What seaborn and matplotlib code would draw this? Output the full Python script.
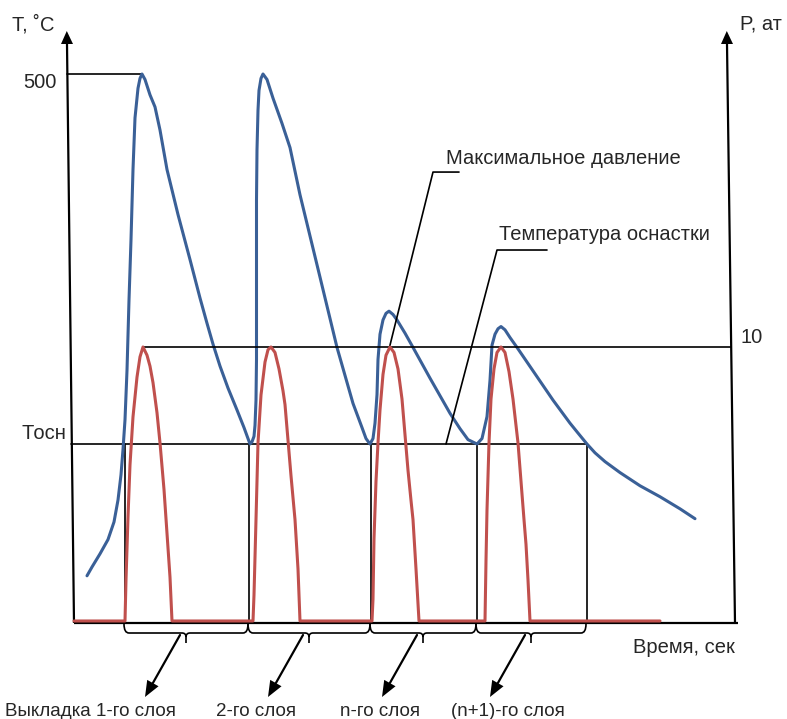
import matplotlib
matplotlib.use("Agg")
import numpy as np
import pandas as pd
import matplotlib.pyplot as plt
from matplotlib.path import Path
from matplotlib.patches import PathPatch, Polygon
import seaborn as sns

# ---- data -------------------------------------------------------------
# tool temperature during lay-up, t (s) / T (deg C)
temp_t = [13, 18, 26, 34, 40, 44, 47, 49, 51, 53, 55, 57, 59, 61, 64, 66, 68, 71, 76, 81,
          86, 93, 104, 116, 126, 133, 139, 146, 154, 163, 170, 174, 176,
          178, 180, 181, 182, 182.5, 182.5, 182.5, 183, 184, 185, 187, 189, 193, 199, 208, 216,
          226, 246, 263, 279, 288, 292, 296,
          299, 301, 303, 304, 306, 309, 312, 315, 319, 323, 331, 339, 356, 376, 386, 394, 403,
          408, 413, 416, 418, 421, 424, 427, 431, 436, 443, 461, 479, 496, 504, 513, 521, 531,
          546, 566, 586, 606, 621]
temp_T = [43, 51, 63, 76, 92, 112, 135, 158, 185, 230, 294, 349, 413, 460, 487, 496, 500, 495,
          481, 470, 449, 413, 372, 331, 296, 273, 254, 234, 214, 194, 178, 168, 163,
          165, 170, 180, 203, 240, 294, 385, 431, 467, 485, 496, 500, 495, 478, 455, 433, 390,
          315, 251, 200, 178, 168, 163,
          168, 182, 208, 240, 263, 276, 282, 284, 281, 276, 264, 251, 223, 191, 177, 167, 163,
          168, 188, 221, 253, 263, 268, 270, 267, 260, 251, 227, 203, 182, 173, 163, 155, 147,
          137, 125, 115, 104, 95]

# pressing pressure, t (s) / P (at)
pres_t = [0, 51, 52, 54, 56, 59, 63, 66, 69, 73, 76, 79, 83, 86, 90, 93, 96, 98, 176,
          179, 180, 182, 184, 187, 191, 194, 197, 201, 205, 209, 211, 214, 217, 221, 224, 226, 298,
          299, 300, 302, 304, 306, 309, 312, 316, 320, 324, 328, 331, 334, 337, 339, 342, 345, 411,
          412, 413, 415, 417, 420, 423, 427, 431, 435, 439, 444, 447, 450, 452, 454, 456, 586]
pres_P = [0, 0, 1.5, 3.8, 5.7, 7.45, 8.9, 9.64, 10, 9.7, 9.3, 8.7, 7.6, 6.5, 4.8, 3.2, 1.6, 0, 0,
          0, 0.95, 3.7, 6.5, 8.25, 9.45, 9.9, 10, 9.8, 9.2, 8.4, 7.9, 6.6, 5.3, 3.7, 1.9, 0, 0,
          0.8, 3.0, 5.1, 6.5, 7.7, 9.0, 9.7, 10, 9.8, 9.2, 8.1, 6.8, 5.5, 4.4, 3.7, 1.9, 0, 0,
          2.2, 4.05, 6.5, 8.1, 9.2, 9.8, 10, 9.8, 9.1, 8.1, 6.5, 5.1, 3.7, 2.8, 1.5, 0, 0]

T_MAX = 500          # peak temperature
T_OSN = 163          # tool temperature
P_MAX = 10           # maximum pressure
layer_bounds = [51, 175, 297, 403, 513]
layer_labels = ["Выкладка 1-го слоя", "2-го слоя", "n-го слоя", "(n+1)-го слоя"]
max_peak_t = 316     # pressure peak the "maximum pressure" callout points to

temp_df = pd.DataFrame({"t": temp_t, "T": temp_T})
pres_df = pd.DataFrame({"t": pres_t, "P": pres_P})

# ---- style ------------------------------------------------------------
sns.set_theme(style="white")
plt.rcParams["font.family"] = ["Liberation Sans", "DejaVu Sans"]
FS = 14.5
BLUE = "#3A6097"
RED = "#C0504D"
K = "black"

W, H = 787, 719
fig = plt.figure(figsize=(W / 100, H / 100), dpi=100)
ax = fig.add_axes([0, 0, 1, 1])
ax.set_xlim(-74, 713)
ax.set_ylim(-87.43, 567.4)
ax2 = ax.twinx()
ax2.set_ylim(-3.577, 22.664)

# data units per pixel
TX = (713 + 74) / W
TY = (567.4 + 87.43) / H


def px(x0, y0, dx, dy):
    """offset a point given in data units by (dx, dy) pixels (dy downwards)"""
    return (x0 + dx * TX, y0 - dy * TY)


def p_to_T(t, p):
    """express a point of the pressure scale in temperature-axis units"""
    disp = ax2.transData.transform((t, p))
    return ax.transData.inverted().transform(disp)


# ---- axes with arrow heads --------------------------------------------
def axis_arrow(x_bottom, x_top, y_top_base, y_tip):
    ax.plot([x_bottom, x_top], [0, y_top_base], color=K, lw=1.6, solid_capstyle="butt")
    hw = 6 * TX
    ax.add_patch(Polygon([(x_top - hw, y_top_base), (x_top + hw, y_top_base),
                          (x_top - 0.2, y_tip)], closed=True, color=K, lw=0))


y_arrow_base = 567.4 - 44 * TY
y_arrow_tip = 567.4 - 31 * TY
axis_arrow(0, -7, y_arrow_base, y_arrow_tip)     # temperature axis
axis_arrow(661, 653, y_arrow_base, y_arrow_tip)  # pressure axis
ax.plot([0, 664], [0, 0], color=K, lw=1.6, solid_capstyle="butt")

# ---- reference lines --------------------------------------------------
lw_ref = 1.2
ax.plot([-7, temp_t[int(np.argmax(temp_T))]], [T_MAX, T_MAX], color=K, lw=lw_ref)
ax.plot([-3, layer_bounds[-1]], [T_OSN, T_OSN], color=K, lw=lw_ref)
ax2.plot([pres_t[int(np.argmax(pres_P))], 657], [P_MAX, P_MAX], color=K, lw=lw_ref)
for b in layer_bounds:
    ax.plot([b, b], [0, T_OSN], color=K, lw=lw_ref)

# ---- curves -----------------------------------------------------------
sns.lineplot(data=pres_df, x="t", y="P", ax=ax2, sort=False, estimator=None,
             color=RED, lw=2.2, solid_joinstyle="round")
sns.lineplot(data=temp_df, x="t", y="T", ax=ax, sort=False, estimator=None,
             color=BLUE, lw=2.2, solid_joinstyle="round")
for a in (ax, ax2):
    a.set_axis_off()

# ---- callouts ---------------------------------------------------------
# maximum pressure
mx, my = 359, 410.7
peak_t, peak_T = p_to_T(max_peak_t, P_MAX)
ax.plot([mx + 26, mx, peak_t - 1], [my, my, peak_T - 2], color=K, lw=1.2)
ax.text(372, 423.5, "Максимальное давление", fontsize=FS, ha="left", va="center")
# tool temperature
tx_, ty_ = 423, 339.7
ax.plot([tx_ + 50, tx_, 372], [ty_, ty_, T_OSN], color=K, lw=1.2)
ax.text(425, 353.4, "Температура оснастки", fontsize=FS, ha="left", va="center")

# ---- braces and arrows under the time axis ----------------------------
for i in range(len(layer_labels)):
    a_, b_ = layer_bounds[i] - 1, layer_bounds[i + 1] - 1
    c = (a_ + b_) / 2
    y1, y2, y3 = -1 * TY, -10 * TY, -14 * TY
    r = 5 * TX
    verts = [(a_, y1), (a_, y2), (a_ + r, y2), (c - 4 * TX, y2), (c, y2), (c, y3),
             (c, -20 * TY),
             (b_, y1), (b_, y2), (b_ - r, y2), (c + 4 * TX, y2), (c, y2), (c, y3)]
    codes = [Path.MOVETO, Path.CURVE3, Path.CURVE3, Path.LINETO, Path.CURVE3, Path.CURVE3,
             Path.LINETO,
             Path.MOVETO, Path.CURVE3, Path.CURVE3, Path.LINETO, Path.CURVE3, Path.CURVE3]
    ax.add_patch(PathPatch(Path(verts, codes), fill=False, color=K, lw=1.2))

    # arrow toward the layer label
    sx, sy = px(c, 0, -6, 12)
    ex, ey = px(c, 0, -41, 74)
    d = np.array([-35.0, 62.0])
    u = d / np.linalg.norm(d)
    n = np.array([u[1], -u[0]])
    hb = np.array([-41.0, 74.0]) - 16 * u
    bx, by = px(c, 0, hb[0], hb[1])
    ax.plot([sx, bx], [sy, by], color=K, lw=1.6)
    p1 = px(c, 0, hb[0] + 6.5 * n[0], hb[1] + 6.5 * n[1])
    p2 = px(c, 0, hb[0] - 6.5 * n[0], hb[1] - 6.5 * n[1])
    ax.add_patch(Polygon([p1, p2, (ex, ey)], closed=True, color=K, lw=0))

label_x = [16.5, 182, 306.5, 433.5]
for lx, lab in zip(label_x, layer_labels):
    ax.text(lx, -81, lab, fontsize=FS * 0.93, ha="center", va="center")

# ---- axis captions ----------------------------------------------------
ax.text(-62, 544.6, "T, ˚C", fontsize=FS, ha="left", va="center")
ax.text(-17, T_MAX - 8, str(T_MAX), fontsize=FS, ha="right", va="center")
ax.text(-52, 173, "Tосн", fontsize=FS, ha="left", va="center")
ax.text(666, 545.5, "P, ат", fontsize=FS, ha="left", va="center")
ax2.text(666, P_MAX + 0.33, str(P_MAX), fontsize=FS, ha="left", va="center")
ax.text(559, -21.9, "Время, сек", fontsize=FS, ha="left", va="center")

fig.savefig("out.png", dpi=100)
